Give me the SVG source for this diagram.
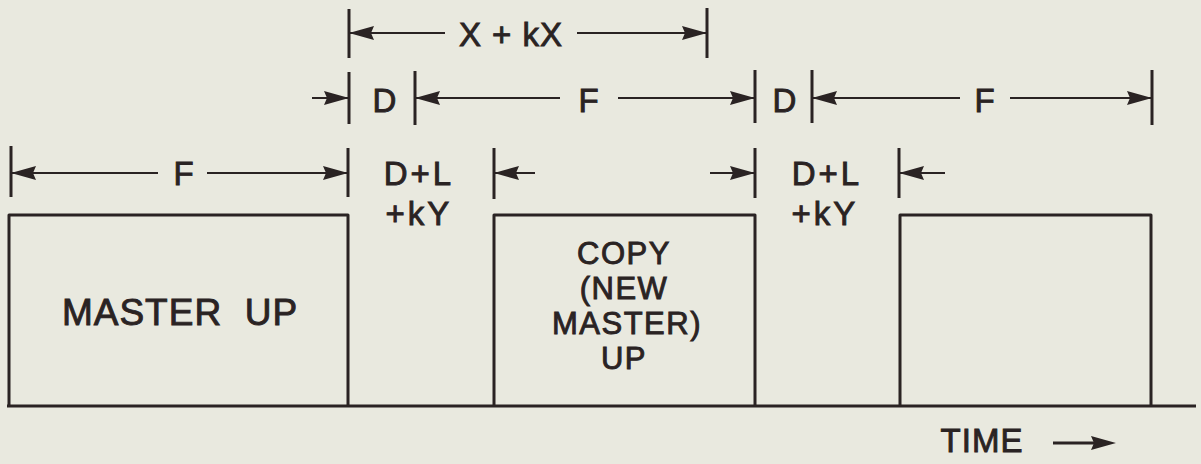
<svg xmlns="http://www.w3.org/2000/svg" xmlns:xlink="http://www.w3.org/1999/xlink" width="1201" height="464" viewBox="0 0 1201 464">
<style>
.bg{fill:#e9e9df}
.ln{stroke:#2a2323;stroke-width:2;fill:none}
.tk{stroke:#2a2323;stroke-width:3;fill:none}
.bx{stroke:#2a2323;stroke-width:3;fill:none;stroke-linejoin:round}
.ah{fill:#2a2323}
text{font-family:"Liberation Sans",Arial,sans-serif;fill:#2a2323;stroke:#2a2323;stroke-width:0.9;text-anchor:middle}
.t{font-size:33px;letter-spacing:1px}
.c{font-size:31px;letter-spacing:1.5px}
.big{font-size:37px;letter-spacing:1px}
.sp{letter-spacing:3px}
</style>
<defs>
<path id="ar" class="ah" d="M0,0 L-25,-7 L-22,0 L-25,7 Z"/>
</defs>
<rect class="bg" x="0" y="0" width="1201" height="464"/>

<g id="baseline">
<line class="bx" x1="7" y1="406" x2="1196" y2="406"/>
</g>

<g id="box-master">
<polyline class="bx" points="9,406 9,215 348,215 348,406"/>
<text class="big" x="180" y="325" xml:space="preserve">MASTER  UP</text>
</g>

<g id="box-copy">
<polyline class="bx" points="494,406 494,215 755,215 755,406"/>
<text class="c" x="624" y="264">COPY</text>
<text class="c" x="624" y="299">(NEW</text>
<text class="c" x="627" y="334">MASTER)</text>
<text class="c" x="624" y="369">UP</text>
</g>

<g id="box-third">
<polyline class="bx" points="900,406 900,215 1151,215 1151,406"/>
</g>

<g id="connectors">
<line class="tk" x1="349" y1="9" x2="349" y2="58"/>
<line class="tk" x1="707" y1="8" x2="707" y2="58"/>
<line class="ln" x1="349" y1="33" x2="445" y2="33"/>
<line class="ln" x1="577" y1="33" x2="707" y2="33"/>
<use xlink:href="#ar" transform="translate(349,33) rotate(180)"/>
<use xlink:href="#ar" transform="translate(707,33)"/>

<line class="tk" x1="349" y1="72" x2="349" y2="124"/>
<line class="tk" x1="415" y1="71" x2="415" y2="125"/>
<line class="tk" x1="755" y1="70" x2="755" y2="123"/>
<line class="tk" x1="812" y1="70" x2="812" y2="123"/>
<line class="tk" x1="1152" y1="70" x2="1152" y2="125"/>
<line class="ln" x1="312" y1="98" x2="349" y2="98"/>
<use xlink:href="#ar" transform="translate(349,98)"/>
<line class="ln" x1="415" y1="98" x2="560" y2="98"/>
<use xlink:href="#ar" transform="translate(415,98) rotate(180)"/>
<line class="ln" x1="618" y1="98" x2="755" y2="98"/>
<use xlink:href="#ar" transform="translate(755,98)"/>
<line class="ln" x1="812" y1="98" x2="960" y2="98"/>
<use xlink:href="#ar" transform="translate(812,98) rotate(180)"/>
<line class="ln" x1="1010" y1="98" x2="1152" y2="98"/>
<use xlink:href="#ar" transform="translate(1152,98)"/>

<line class="tk" x1="11" y1="146" x2="11" y2="197"/>
<line class="tk" x1="348" y1="148" x2="348" y2="197"/>
<line class="tk" x1="494" y1="148" x2="494" y2="199"/>
<line class="tk" x1="755" y1="148" x2="755" y2="198"/>
<line class="tk" x1="899" y1="148" x2="899" y2="198"/>
<line class="ln" x1="11" y1="173" x2="158" y2="173"/>
<use xlink:href="#ar" transform="translate(11,173) rotate(180)"/>
<line class="ln" x1="207" y1="173" x2="348" y2="173"/>
<use xlink:href="#ar" transform="translate(348,173)"/>
<line class="ln" x1="494" y1="173" x2="535" y2="173"/>
<use xlink:href="#ar" transform="translate(494,173) rotate(180)"/>
<line class="ln" x1="710" y1="173" x2="755" y2="173"/>
<use xlink:href="#ar" transform="translate(755,173)"/>
<line class="ln" x1="899" y1="173" x2="945" y2="173"/>
<use xlink:href="#ar" transform="translate(899,173) rotate(180)"/>

<line class="tk" x1="1053" y1="443" x2="1095" y2="443"/>
<use xlink:href="#ar" transform="translate(1116,443)"/>
</g>

<g id="labels">
<text class="t" x="511" y="46">X + kX</text>
<text class="t" x="385" y="112">D</text>
<text class="t" x="589" y="112">F</text>
<text class="t" x="785" y="112">D</text>
<text class="t" x="985" y="112">F</text>
<text class="t" x="184" y="185">F</text>
<text class="t sp" x="419" y="185">D+L</text>
<text class="t sp" x="419" y="225">+kY</text>
<text class="t sp" x="827" y="185">D+L</text>
<text class="t sp" x="825" y="225">+kY</text>
<text class="t" x="982" y="452">TIME</text>
</g>
</svg>
